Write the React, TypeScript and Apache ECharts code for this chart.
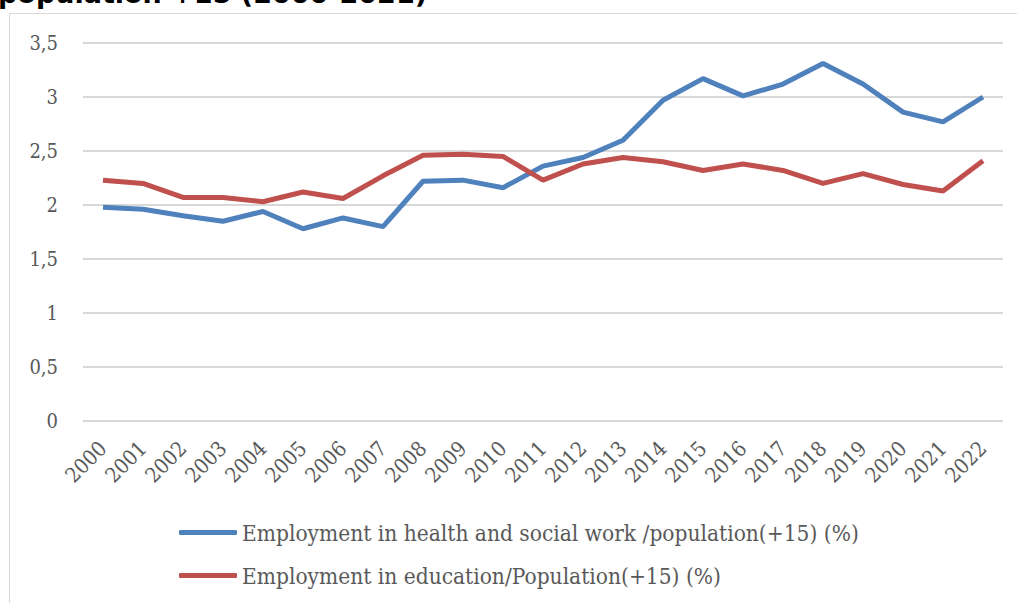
import React, { useEffect, useRef } from "react";
import * as echarts from "echarts";

const years = ["2000","2001","2002","2003","2004","2005","2006","2007","2008","2009","2010","2011","2012","2013","2014","2015","2016","2017","2018","2019","2020","2021","2022"];
const healthSocial = [1.98,1.96,1.90,1.85,1.94,1.78,1.88,1.80,2.22,2.23,2.16,2.36,2.44,2.60,2.97,3.17,3.01,3.12,3.31,3.12,2.86,2.77,3.00];
const education = [2.23,2.20,2.07,2.07,2.03,2.12,2.06,2.27,2.46,2.47,2.45,2.23,2.38,2.44,2.40,2.32,2.38,2.32,2.20,2.29,2.19,2.13,2.41];
const seriesNames = [
  "Employment in health and social work /population(+15) (%)",
  "Employment in education/Population(+15) (%)",
];
const titleText = "population +15 (2000-2021)";

const FONT = "'DejaVu Serif Condensed', 'DejaVu Serif', serif";

export default function App() {
  const ref = useRef<HTMLDivElement>(null);
  useEffect(() => {
    if (!ref.current) return;
    const chart = echarts.init(ref.current, undefined, { renderer: "svg" });
    chart.setOption({
      animation: false,
      backgroundColor: "#ffffff",
      graphic: [
        {
          type: "rect",
          shape: { x: 9.5, y: 13.5, width: 1020, height: 600 },
          style: { fill: "none", stroke: "#d9d9d9", lineWidth: 1 },
          z: -1,
        },
        {
          type: "text",
          x: -2,
          y: -20,
          style: {
            text: titleText,
            font: "bold 27px 'DejaVu Sans', sans-serif",
            fill: "#000000",
          },
        },
      ],
      grid: { left: 83, right: 14, top: 43, bottom: 182 },
      legend: {
        orient: "vertical",
        left: 174,
        top: 516,
        itemWidth: 58,
        itemHeight: 5,
        itemGap: 20,
        icon: "roundRect",
        textStyle: { fontFamily: FONT, fontSize: 22.5, color: "#595959" },
        data: seriesNames,
      },
      xAxis: {
        type: "category",
        data: years,
        boundaryGap: true,
        axisLine: { show: false },
        axisTick: { show: false },
        axisLabel: {
          rotate: 45,
          margin: 24,
          fontFamily: FONT,
          fontSize: 21,
          color: "#595959",
          interval: 0,
        },
      },
      yAxis: {
        type: "value",
        min: 0,
        max: 3.5,
        interval: 0.5,
        axisLine: { show: false },
        axisTick: { show: false },
        splitLine: { lineStyle: { color: "#d9d9d9", width: 2 } },
        axisLabel: {
          margin: 25,
          fontFamily: FONT,
          fontSize: 20,
          color: "#595959",
          formatter: (v: number) => String(v).replace(".", ","),
        },
      },
      series: [
        {
          name: seriesNames[0],
          type: "line",
          data: healthSocial,
          symbol: "none",
          lineStyle: { color: "#4F81BD", width: 5 },
          itemStyle: { color: "#4F81BD" },
        },
        {
          name: seriesNames[1],
          type: "line",
          data: education,
          symbol: "none",
          lineStyle: { color: "#C0504D", width: 5 },
          itemStyle: { color: "#C0504D" },
        },
      ],
    });
    return () => chart.dispose();
  }, []);
  return (
    <div
      ref={ref}
      style={{ position: "fixed", left: 0, top: 0, width: 1017, height: 603 }}
    />
  );
}
